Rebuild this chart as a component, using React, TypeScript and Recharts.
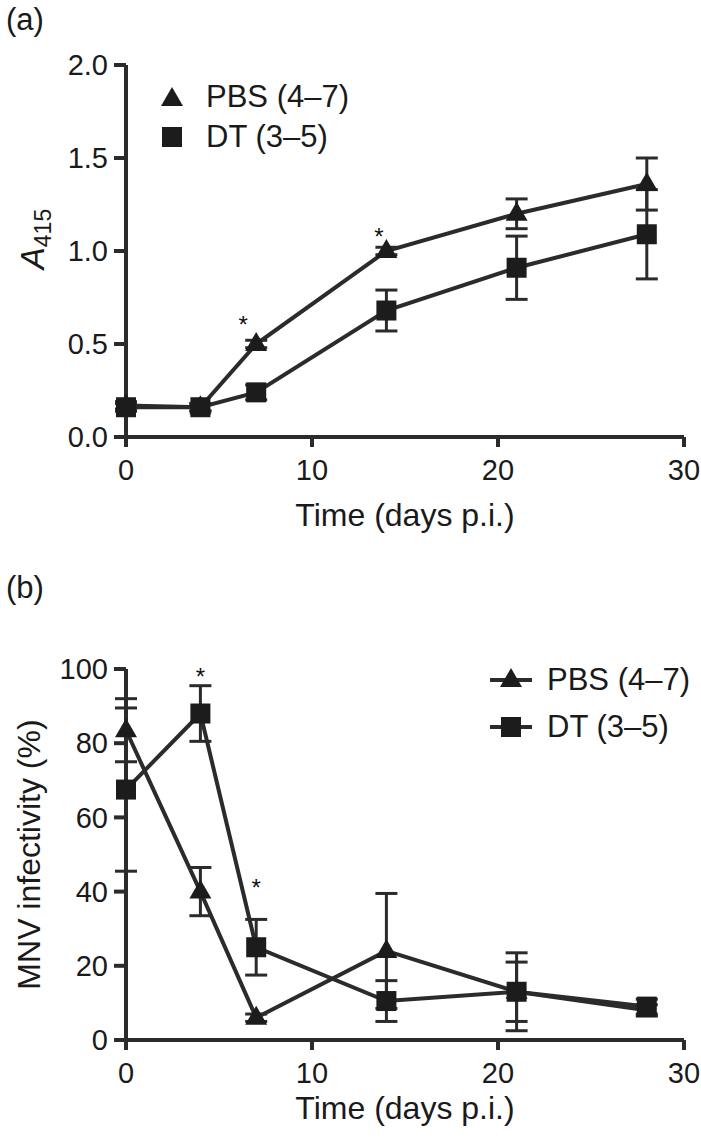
import React from "react";
import { LineChart, Line, XAxis, YAxis, ErrorBar, Legend, ReferenceDot } from "recharts";

// sampling days (p.i.)
const days = [0, 4, 7, 14, 21, 28];

// (a) A415
const pbsAbs = [0.17, 0.16, 0.5, 1.0, 1.2, 1.36];
const pbsAbsErr = [0.02, 0.02, 0.02, 0.02, 0.08, 0.14];
const dtAbs = [0.16, 0.16, 0.24, 0.68, 0.91, 1.09];
const dtAbsErr = [0.02, 0.02, 0.04, 0.11, 0.17, 0.24];

// (b) MNV infectivity %
const pbsInf = [83.5, 40, 6, 24, 13, 8];
const pbsInfErr = [8.5, 6.5, 1, 15.5, 8, 1.5];
const dtInf = [67.5, 88, 25, 10.5, 13, 9];
const dtInfErr = [22, 7.5, 7.5, 5.5, 10.5, 2];

const seriesNames = ["PBS (4\u20137)", "DT (3\u20135)"];
const xTicks = [0, 10, 20, 30];
const yTicksA = [0, 0.5, 1, 1.5, 2];
const yTicksB = [0, 20, 40, 60, 80, 100];

// significance marks (*), placed in data units
const starDaysA = [6.3, 13.6];
const starLevelsA = [0.63, 1.1];
const starDaysB = [4, 7];
const starLevelsB = [99.2, 42.3];

const dataA = days.map((d, i) => ({
  day: d,
  pbs: pbsAbs[i],
  pbsErr: pbsAbsErr[i],
  dt: dtAbs[i],
  dtErr: dtAbsErr[i],
}));
const dataB = days.map((d, i) => ({
  day: d,
  pbs: pbsInf[i],
  pbsErr: pbsInfErr[i],
  dt: dtInf[i],
  dtErr: dtInfErr[i],
}));

const INK = "#2b2b2b";
const MARK = "#1c1c1c";
const FONT = "'Liberation Sans', Arial, sans-serif";

const triPath = (x: number, y: number) => `M${x},${y - 12}L${x + 11},${y + 7}L${x - 11},${y + 7}Z`;

const TriDot = (p: any) => {
  if (p.cx == null || p.cy == null) return null;
  return <path key={`t${p.index}`} d={triPath(p.cx, p.cy)} fill={MARK} />;
};
const SqDot = (p: any) => {
  if (p.cx == null || p.cy == null) return null;
  return <rect key={`s${p.index}`} x={p.cx - 10} y={p.cy - 10} width={20} height={20} fill={MARK} />;
};

const legendA = () => (
  <div style={{ fontFamily: FONT, fontSize: 31, color: "#1a1a1a" }}>
    {seriesNames.map((n, i) => (
      <div key={n} style={{ display: "flex", alignItems: "center", height: 40 }}>
        <svg width={46} height={30}>
          {i === 0 ? <path d={triPath(12, 17)} fill={MARK} /> : <rect x={2} y={5} width={20} height={20} fill={MARK} />}
        </svg>
        <span>{n}</span>
      </div>
    ))}
  </div>
);

const legendB = () => (
  <div style={{ fontFamily: FONT, fontSize: 31, color: "#1a1a1a" }}>
    {seriesNames.map((n, i) => (
      <div key={n} style={{ display: "flex", alignItems: "center", height: 47 }}>
        <svg width={57} height={30}>
          <line x1={0} y1={15} x2={42} y2={15} stroke={INK} strokeWidth={4} />
          {i === 0 ? <path d={triPath(21, 15)} fill={MARK} /> : <rect x={11} y={5} width={20} height={20} fill={MARK} />}
        </svg>
        <span>{n}</span>
      </div>
    ))}
  </div>
);

// text baseline sits a little below the centre of the asterisk glyph
const starLabel = (p: any) => {
  const vb = p.viewBox || {};
  const cx = (vb.x ?? 0) + (vb.width ?? 0) / 2;
  const cy = (vb.y ?? 0) + (vb.height ?? 0) / 2;
  return (
    <text x={cx} y={cy + 13} textAnchor="middle" fontSize={24} fontFamily={FONT} fill="#111">
      *
    </text>
  );
};

const absLabel = (p: any) => {
  const vb = p.viewBox;
  const x = 44;
  const y = vb.y + vb.height / 2 - 12;
  return (
    <text transform={`rotate(-90 ${x} ${y})`} x={x} y={y} textAnchor="middle" fontFamily={FONT} fill="#1a1a1a">
      <tspan fontSize={33} fontStyle="italic">A</tspan>
      <tspan fontSize={23} dy={7}>415</tspan>
    </text>
  );
};

const infLabel = (p: any) => {
  const vb = p.viewBox;
  const x = 40;
  const y = vb.y + vb.height / 2;
  return (
    <text transform={`rotate(-90 ${x} ${y})`} x={x} y={y} textAnchor="middle" fontSize={32} fontFamily={FONT} fill="#1a1a1a">
      MNV infectivity (%)
    </text>
  );
};

const tickStyle = { fontSize: 29, fontFamily: FONT, fill: "#1a1a1a" };
const titleStyle = { fontSize: 32, fontFamily: FONT, fill: "#1a1a1a" };
const axisLine = { stroke: INK, strokeWidth: 4 };
const tickLine = { stroke: INK, strokeWidth: 4 };

const panelLetter = (t: string, top: number) => (
  <div style={{ position: "absolute", left: 6, top, fontFamily: FONT, fontSize: 31, color: "#1a1a1a" }}>{t}</div>
);

export default function App() {
  return (
    <div style={{ position: "absolute", left: 0, top: 0, width: 701, height: 1139, background: "#fff" }}>
      {panelLetter("(a)", 2)}
      <div style={{ position: "absolute", left: 0, top: 0 }}>
        <LineChart width={701} height={560} data={dataA} margin={{ top: 65, right: 17, bottom: 0, left: 0 }}>
          <XAxis
            dataKey="day"
            type="number"
            domain={[0, 30]}
            ticks={xTicks}
            tick={tickStyle}
            tickSize={10}
            tickMargin={12}
            axisLine={axisLine}
            tickLine={tickLine}
            height={123}
            label={{ value: "Time (days p.i.)", position: "insideBottom", offset: 34, style: titleStyle }}
          />
          <YAxis
            type="number"
            domain={[0, 2]}
            ticks={yTicksA}
            tickFormatter={(v: number) => v.toFixed(1)}
            tick={tickStyle}
            tickSize={12}
            tickMargin={6}
            axisLine={axisLine}
            tickLine={tickLine}
            width={126}
            label={absLabel}
          />
          <Legend verticalAlign="middle" align="center" content={legendA} wrapperStyle={{ top: 77, left: 160, width: "auto" }} />
          <Line dataKey="dt" name={seriesNames[1]} stroke={INK} strokeWidth={4} dot={SqDot} activeDot={false} isAnimationActive={false}>
            <ErrorBar dataKey="dtErr" width={11} strokeWidth={3} stroke={INK} direction="y" isAnimationActive={false} />
          </Line>
          <Line dataKey="pbs" name={seriesNames[0]} stroke={INK} strokeWidth={4} dot={TriDot} activeDot={false} isAnimationActive={false}>
            <ErrorBar dataKey="pbsErr" width={11} strokeWidth={3} stroke={INK} direction="y" isAnimationActive={false} />
          </Line>
          {starDaysA.map((d, i) => (
            <ReferenceDot key={d} x={d} y={starLevelsA[i]} r={0} fill="none" stroke="none" label={starLabel} />
          ))}
        </LineChart>
      </div>
      {panelLetter("(b)", 570)}
      <div style={{ position: "absolute", left: 0, top: 560 }}>
        <LineChart width={701} height={579} data={dataB} margin={{ top: 109, right: 17, bottom: 0, left: 0 }}>
          <XAxis
            dataKey="day"
            type="number"
            domain={[0, 30]}
            ticks={xTicks}
            tick={tickStyle}
            tickSize={10}
            tickMargin={12}
            axisLine={axisLine}
            tickLine={tickLine}
            height={99}
            label={{ value: "Time (days p.i.)", position: "insideBottom", offset: 20, style: titleStyle }}
          />
          <YAxis
            type="number"
            domain={[0, 100]}
            ticks={yTicksB}
            tick={tickStyle}
            tickSize={12}
            tickMargin={6}
            axisLine={axisLine}
            tickLine={tickLine}
            width={126}
            label={infLabel}
          />
          <Legend verticalAlign="middle" align="center" content={legendB} wrapperStyle={{ top: 96, left: 490, width: "auto" }} />
          <Line dataKey="pbs" name={seriesNames[0]} stroke={INK} strokeWidth={4} dot={TriDot} activeDot={false} isAnimationActive={false}>
            <ErrorBar dataKey="pbsErr" width={11} strokeWidth={3} stroke={INK} direction="y" isAnimationActive={false} />
          </Line>
          <Line dataKey="dt" name={seriesNames[1]} stroke={INK} strokeWidth={4} dot={SqDot} activeDot={false} isAnimationActive={false}>
            <ErrorBar dataKey="dtErr" width={11} strokeWidth={3} stroke={INK} direction="y" isAnimationActive={false} />
          </Line>
          {starDaysB.map((d, i) => (
            <ReferenceDot key={d} x={d} y={starLevelsB[i]} r={0} fill="none" stroke="none" label={starLabel} />
          ))}
        </LineChart>
      </div>
    </div>
  );
}
